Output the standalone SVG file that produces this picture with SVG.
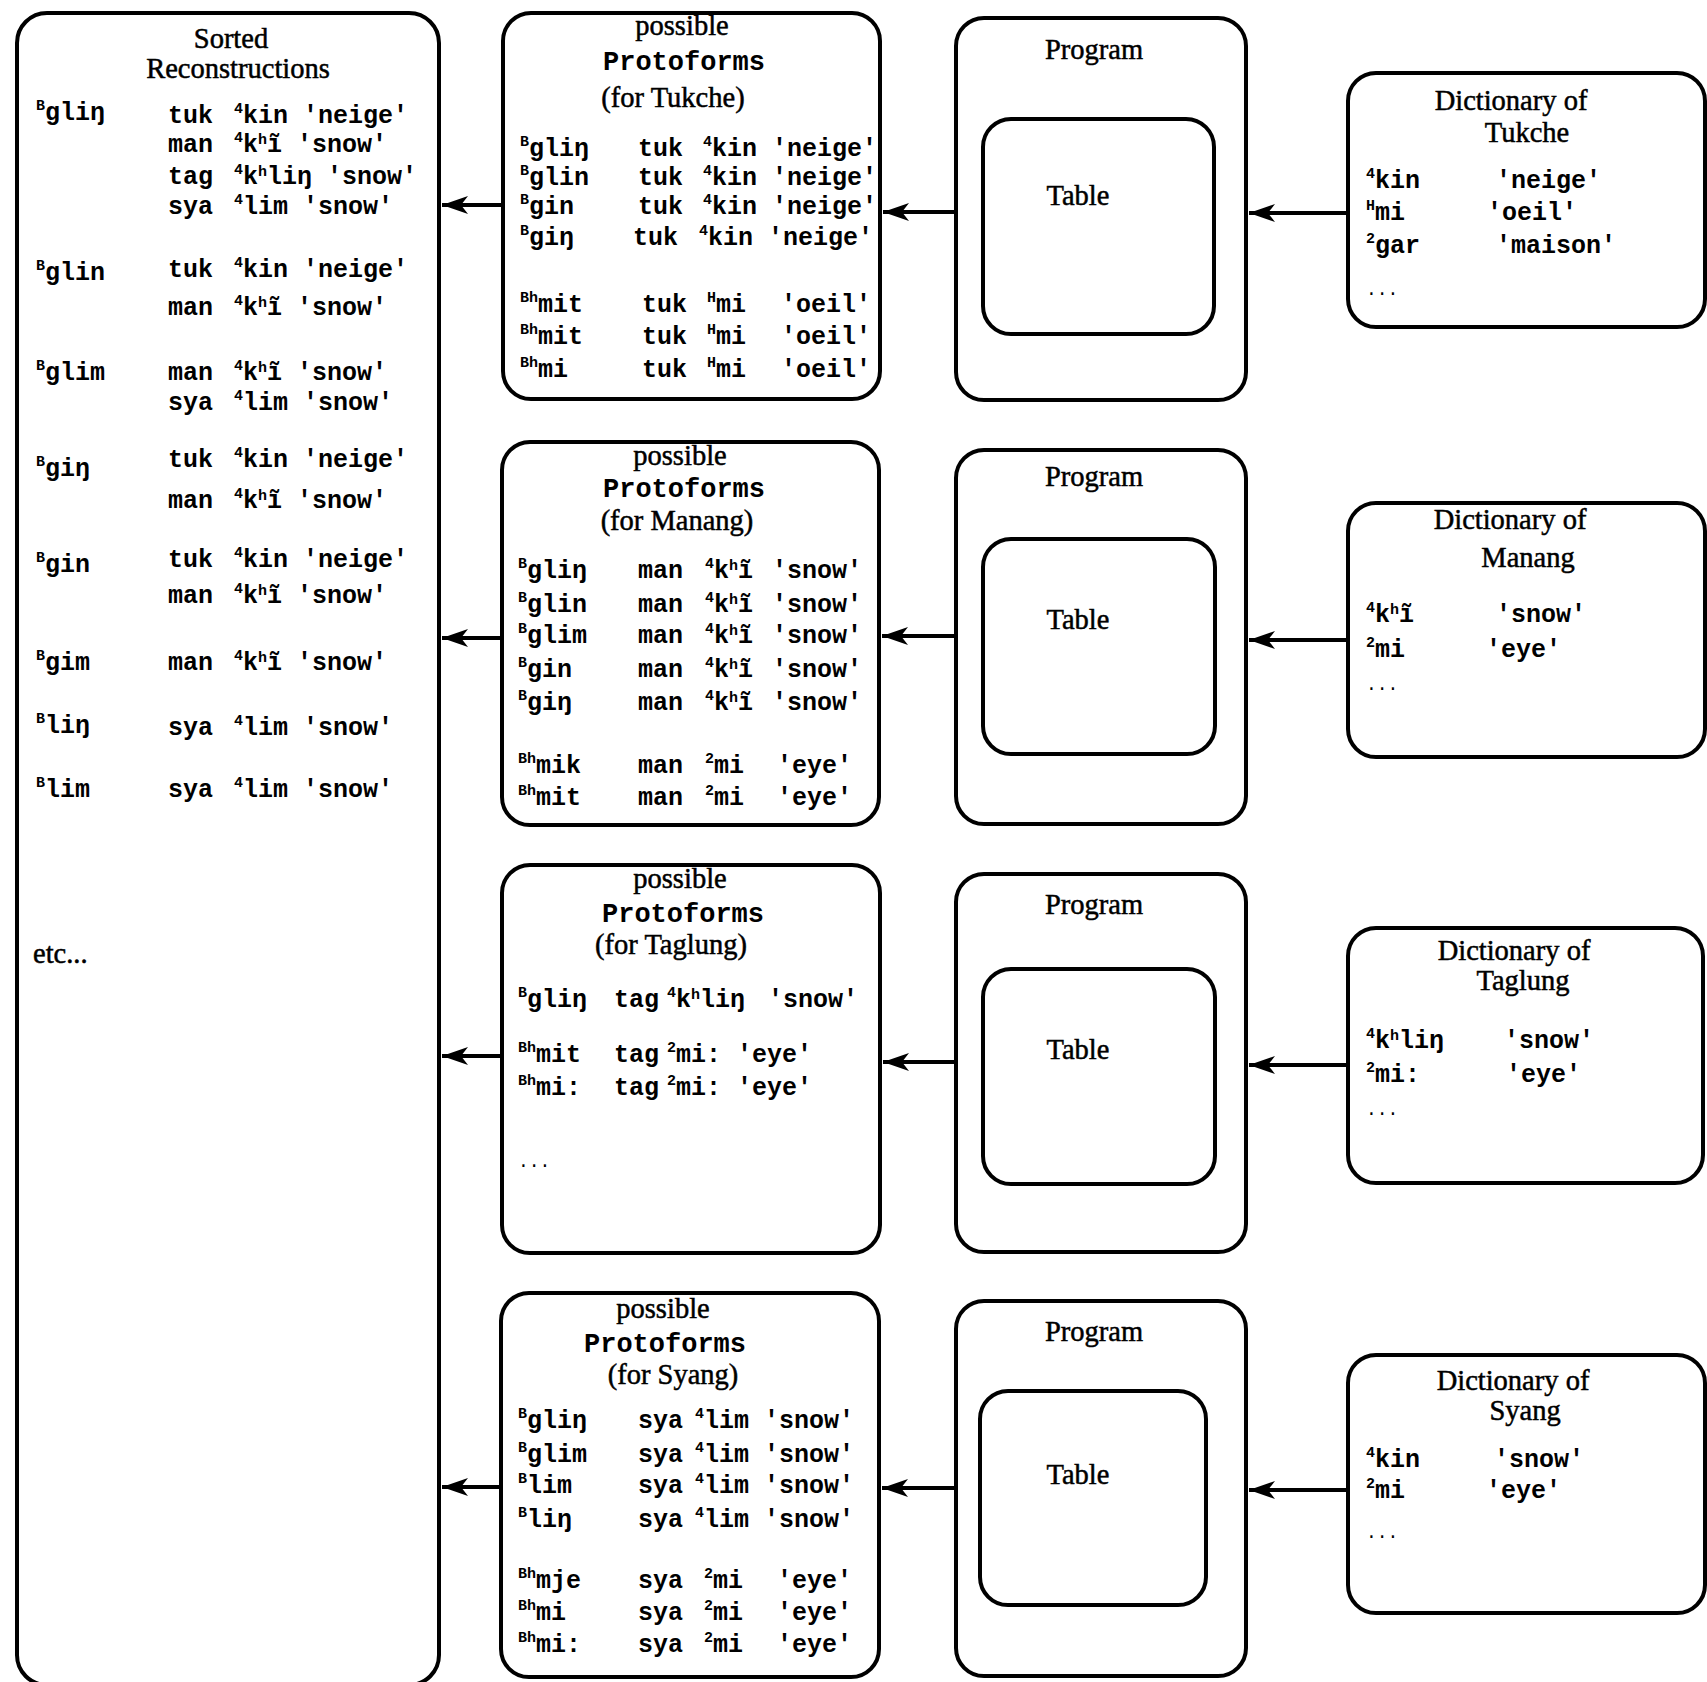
<svg xmlns="http://www.w3.org/2000/svg" width="1707" height="1682" viewBox="0 0 1707 1682">
<style>
  .box { fill: none; stroke: #000; stroke-width: 4; }
  .s { font-family: "Liberation Serif", "DejaVu Serif", serif; font-size: 28.5px; fill: #000; stroke: #000; stroke-width: 0.5; }
  .m { font-family: "Liberation Mono", "DejaVu Sans Mono", monospace; font-size: 25px; font-weight: bold; fill: #000; }
  .hd { font-size: 27px; }
  .sup { font-size: 15px; }
  .dots { font-family: "Liberation Mono", monospace; font-size: 18px; fill: #000; }
  .conn path { fill: none; stroke: #000; stroke-width: 4; }
</style>
<defs>
  <marker id="ah" markerUnits="userSpaceOnUse" markerWidth="28" markerHeight="24" refX="26" refY="12" orient="auto">
    <path d="M0,3 L26,12 L0,21 L7,12 Z" fill="#000"/>
  </marker>
</defs>
<rect width="1707" height="1682" fill="#fff"/>

<!-- sorted reconstructions -->
<g id="sorted">
  <rect class="box" x="17" y="13" width="422" height="1672" rx="30"/>
  <text class="s" x="231" y="48" text-anchor="middle">Sorted</text>
  <text class="s" x="238" y="78" text-anchor="middle">Reconstructions</text>
  <text class="m" x="36" y="120"><tspan class="sup" dy="-10">B</tspan><tspan dy="10">gliŋ</tspan></text>
  <text class="m" x="36" y="280"><tspan class="sup" dy="-10">B</tspan><tspan dy="10">glin</tspan></text>
  <text class="m" x="36" y="380"><tspan class="sup" dy="-10">B</tspan><tspan dy="10">glim</tspan></text>
  <text class="m" x="36" y="476"><tspan class="sup" dy="-10">B</tspan><tspan dy="10">giŋ</tspan></text>
  <text class="m" x="36" y="572"><tspan class="sup" dy="-10">B</tspan><tspan dy="10">gin</tspan></text>
  <text class="m" x="36" y="670"><tspan class="sup" dy="-10">B</tspan><tspan dy="10">gim</tspan></text>
  <text class="m" x="36" y="733"><tspan class="sup" dy="-10">B</tspan><tspan dy="10">liŋ</tspan></text>
  <text class="m" x="36" y="797"><tspan class="sup" dy="-10">B</tspan><tspan dy="10">lim</tspan></text>

  <text class="m" x="168" y="123">tuk<tspan x="234" class="sup" dy="-10">4</tspan><tspan dy="10">kin 'neige'</tspan></text>
  <text class="m" x="168" y="152">man<tspan x="234" class="sup" dy="-10">4</tspan><tspan dy="10">k</tspan><tspan class="sup" dy="-8">h</tspan><tspan dy="8">ĩ 'snow'</tspan></text>
  <text class="m" x="168" y="184">tag<tspan x="234" class="sup" dy="-10">4</tspan><tspan dy="10">k</tspan><tspan class="sup" dy="-8">h</tspan><tspan dy="8">liŋ 'snow'</tspan></text>
  <text class="m" x="168" y="214">sya<tspan x="234" class="sup" dy="-10">4</tspan><tspan dy="10">lim 'snow'</tspan></text>

  <text class="m" x="168" y="277">tuk<tspan x="234" class="sup" dy="-10">4</tspan><tspan dy="10">kin 'neige'</tspan></text>
  <text class="m" x="168" y="315">man<tspan x="234" class="sup" dy="-10">4</tspan><tspan dy="10">k</tspan><tspan class="sup" dy="-8">h</tspan><tspan dy="8">ĩ 'snow'</tspan></text>

  <text class="m" x="168" y="380">man<tspan x="234" class="sup" dy="-10">4</tspan><tspan dy="10">k</tspan><tspan class="sup" dy="-8">h</tspan><tspan dy="8">ĩ 'snow'</tspan></text>
  <text class="m" x="168" y="410">sya<tspan x="234" class="sup" dy="-10">4</tspan><tspan dy="10">lim 'snow'</tspan></text>

  <text class="m" x="168" y="467">tuk<tspan x="234" class="sup" dy="-10">4</tspan><tspan dy="10">kin 'neige'</tspan></text>
  <text class="m" x="168" y="508">man<tspan x="234" class="sup" dy="-10">4</tspan><tspan dy="10">k</tspan><tspan class="sup" dy="-8">h</tspan><tspan dy="8">ĩ 'snow'</tspan></text>

  <text class="m" x="168" y="567">tuk<tspan x="234" class="sup" dy="-10">4</tspan><tspan dy="10">kin 'neige'</tspan></text>
  <text class="m" x="168" y="603">man<tspan x="234" class="sup" dy="-10">4</tspan><tspan dy="10">k</tspan><tspan class="sup" dy="-8">h</tspan><tspan dy="8">ĩ 'snow'</tspan></text>

  <text class="m" x="168" y="670">man<tspan x="234" class="sup" dy="-10">4</tspan><tspan dy="10">k</tspan><tspan class="sup" dy="-8">h</tspan><tspan dy="8">ĩ 'snow'</tspan></text>
  <text class="m" x="168" y="735">sya<tspan x="234" class="sup" dy="-10">4</tspan><tspan dy="10">lim 'snow'</tspan></text>
  <text class="m" x="168" y="797">sya<tspan x="234" class="sup" dy="-10">4</tspan><tspan dy="10">lim 'snow'</tspan></text>

  <text class="s" x="33" y="963" font-size="27">etc...</text>
</g>

<!-- protoform candidates, Tukche -->
<g id="proto-tukche">
  <rect class="box" x="503" y="13" width="377" height="386" rx="28"/>
  <text class="s" x="682" y="35" text-anchor="middle">possible</text>
  <text class="m hd" x="684" y="70" text-anchor="middle">Protoforms</text>
  <text class="s" x="673" y="107" text-anchor="middle">(for Tukche)</text>
  <text class="m" y="156"><tspan x="520" class="sup" dy="-10">B</tspan><tspan dy="10">gliŋ</tspan><tspan x="638">tuk</tspan><tspan x="703" class="sup" dy="-10">4</tspan><tspan dy="10">kin</tspan><tspan x="772">'neige'</tspan></text>
  <text class="m" y="185"><tspan x="520" class="sup" dy="-10">B</tspan><tspan dy="10">glin</tspan><tspan x="638">tuk</tspan><tspan x="703" class="sup" dy="-10">4</tspan><tspan dy="10">kin</tspan><tspan x="772">'neige'</tspan></text>
  <text class="m" y="214"><tspan x="520" class="sup" dy="-10">B</tspan><tspan dy="10">gin</tspan><tspan x="638">tuk</tspan><tspan x="703" class="sup" dy="-10">4</tspan><tspan dy="10">kin</tspan><tspan x="772">'neige'</tspan></text>
  <text class="m" y="245"><tspan x="520" class="sup" dy="-10">B</tspan><tspan dy="10">giŋ</tspan><tspan x="633">tuk</tspan><tspan x="699" class="sup" dy="-10">4</tspan><tspan dy="10">kin</tspan><tspan x="768">'neige'</tspan></text>
  <text class="m" y="312"><tspan x="520" class="sup" dy="-10">Bh</tspan><tspan dy="10">mit</tspan><tspan x="642">tuk</tspan><tspan x="707" class="sup" dy="-10">H</tspan><tspan dy="10">mi</tspan><tspan x="781">'oeil'</tspan></text>
  <text class="m" y="344"><tspan x="520" class="sup" dy="-10">Bh</tspan><tspan dy="10">mit</tspan><tspan x="642">tuk</tspan><tspan x="707" class="sup" dy="-10">H</tspan><tspan dy="10">mi</tspan><tspan x="781">'oeil'</tspan></text>
  <text class="m" y="377"><tspan x="520" class="sup" dy="-10">Bh</tspan><tspan dy="10">mi</tspan><tspan x="642">tuk</tspan><tspan x="707" class="sup" dy="-10">H</tspan><tspan dy="10">mi</tspan><tspan x="781">'oeil'</tspan></text>
</g>

<!-- protoform candidates, Manang -->
<g id="proto-manang">
  <rect class="box" x="502" y="442" width="377" height="383" rx="28"/>
  <text class="s" x="680" y="465" text-anchor="middle">possible</text>
  <text class="m hd" x="684" y="497" text-anchor="middle">Protoforms</text>
  <text class="s" x="677" y="530" text-anchor="middle">(for Manang)</text>
  <text class="m" y="578"><tspan x="518" class="sup" dy="-10">B</tspan><tspan dy="10">gliŋ</tspan><tspan x="638">man</tspan><tspan x="705" class="sup" dy="-10">4</tspan><tspan dy="10">k</tspan><tspan class="sup" dy="-8">h</tspan><tspan dy="8">ĩ</tspan><tspan x="772">'snow'</tspan></text>
  <text class="m" y="612"><tspan x="518" class="sup" dy="-10">B</tspan><tspan dy="10">glin</tspan><tspan x="638">man</tspan><tspan x="705" class="sup" dy="-10">4</tspan><tspan dy="10">k</tspan><tspan class="sup" dy="-8">h</tspan><tspan dy="8">ĩ</tspan><tspan x="772">'snow'</tspan></text>
  <text class="m" y="643"><tspan x="518" class="sup" dy="-10">B</tspan><tspan dy="10">glim</tspan><tspan x="638">man</tspan><tspan x="705" class="sup" dy="-10">4</tspan><tspan dy="10">k</tspan><tspan class="sup" dy="-8">h</tspan><tspan dy="8">ĩ</tspan><tspan x="772">'snow'</tspan></text>
  <text class="m" y="677"><tspan x="518" class="sup" dy="-10">B</tspan><tspan dy="10">gin</tspan><tspan x="638">man</tspan><tspan x="705" class="sup" dy="-10">4</tspan><tspan dy="10">k</tspan><tspan class="sup" dy="-8">h</tspan><tspan dy="8">ĩ</tspan><tspan x="772">'snow'</tspan></text>
  <text class="m" y="710"><tspan x="518" class="sup" dy="-10">B</tspan><tspan dy="10">giŋ</tspan><tspan x="638">man</tspan><tspan x="705" class="sup" dy="-10">4</tspan><tspan dy="10">k</tspan><tspan class="sup" dy="-8">h</tspan><tspan dy="8">ĩ</tspan><tspan x="772">'snow'</tspan></text>
  <text class="m" y="773"><tspan x="518" class="sup" dy="-10">Bh</tspan><tspan dy="10">mik</tspan><tspan x="638">man</tspan><tspan x="705" class="sup" dy="-10">2</tspan><tspan dy="10">mi</tspan><tspan x="777">'eye'</tspan></text>
  <text class="m" y="805"><tspan x="518" class="sup" dy="-10">Bh</tspan><tspan dy="10">mit</tspan><tspan x="638">man</tspan><tspan x="705" class="sup" dy="-10">2</tspan><tspan dy="10">mi</tspan><tspan x="777">'eye'</tspan></text>
</g>

<!-- protoform candidates, Taglung -->
<g id="proto-taglung">
  <rect class="box" x="502" y="865" width="378" height="388" rx="28"/>
  <text class="s" x="680" y="888" text-anchor="middle">possible</text>
  <text class="m hd" x="683" y="922" text-anchor="middle">Protoforms</text>
  <text class="s" x="671" y="954" text-anchor="middle">(for Taglung)</text>
  <text class="m" y="1007"><tspan x="518" class="sup" dy="-10">B</tspan><tspan dy="10">gliŋ</tspan><tspan x="614">tag</tspan><tspan x="667" class="sup" dy="-10">4</tspan><tspan dy="10">k</tspan><tspan class="sup" dy="-8">h</tspan><tspan dy="8">liŋ</tspan><tspan x="768">'snow'</tspan></text>
  <text class="m" y="1062"><tspan x="518" class="sup" dy="-10">Bh</tspan><tspan dy="10">mit</tspan><tspan x="614">tag</tspan><tspan x="667" class="sup" dy="-10">2</tspan><tspan dy="10">mi:</tspan><tspan x="737">'eye'</tspan></text>
  <text class="m" y="1095"><tspan x="518" class="sup" dy="-10">Bh</tspan><tspan dy="10">mi:</tspan><tspan x="614">tag</tspan><tspan x="667" class="sup" dy="-10">2</tspan><tspan dy="10">mi:</tspan><tspan x="737">'eye'</tspan></text>
  <text class="dots" x="518" y="1167">...</text>
</g>

<!-- protoform candidates, Syang -->
<g id="proto-syang">
  <rect class="box" x="501" y="1293" width="378" height="384" rx="28"/>
  <text class="s" x="663" y="1318" text-anchor="middle">possible</text>
  <text class="m hd" x="665" y="1352" text-anchor="middle">Protoforms</text>
  <text class="s" x="673" y="1384" text-anchor="middle">(for Syang)</text>
  <text class="m" y="1428"><tspan x="518" class="sup" dy="-10">B</tspan><tspan dy="10">gliŋ</tspan><tspan x="638">sya</tspan><tspan x="695" class="sup" dy="-10">4</tspan><tspan dy="10">lim</tspan><tspan x="764">'snow'</tspan></text>
  <text class="m" y="1462"><tspan x="518" class="sup" dy="-10">B</tspan><tspan dy="10">glim</tspan><tspan x="638">sya</tspan><tspan x="695" class="sup" dy="-10">4</tspan><tspan dy="10">lim</tspan><tspan x="764">'snow'</tspan></text>
  <text class="m" y="1493"><tspan x="518" class="sup" dy="-10">B</tspan><tspan dy="10">lim</tspan><tspan x="638">sya</tspan><tspan x="695" class="sup" dy="-10">4</tspan><tspan dy="10">lim</tspan><tspan x="764">'snow'</tspan></text>
  <text class="m" y="1527"><tspan x="518" class="sup" dy="-10">B</tspan><tspan dy="10">liŋ</tspan><tspan x="638">sya</tspan><tspan x="695" class="sup" dy="-10">4</tspan><tspan dy="10">lim</tspan><tspan x="764">'snow'</tspan></text>
  <text class="m" y="1588"><tspan x="518" class="sup" dy="-10">Bh</tspan><tspan dy="10">mje</tspan><tspan x="638">sya</tspan><tspan x="704" class="sup" dy="-10">2</tspan><tspan dy="10">mi</tspan><tspan x="777">'eye'</tspan></text>
  <text class="m" y="1620"><tspan x="518" class="sup" dy="-10">Bh</tspan><tspan dy="10">mi</tspan><tspan x="638">sya</tspan><tspan x="704" class="sup" dy="-10">2</tspan><tspan dy="10">mi</tspan><tspan x="777">'eye'</tspan></text>
  <text class="m" y="1652"><tspan x="518" class="sup" dy="-10">Bh</tspan><tspan dy="10">mi:</tspan><tspan x="638">sya</tspan><tspan x="704" class="sup" dy="-10">2</tspan><tspan dy="10">mi</tspan><tspan x="777">'eye'</tspan></text>
</g>

<!-- program blocks with their tables -->
<g id="program-1">
  <rect class="box" x="956" y="18" width="290" height="382" rx="28"/>
  <text class="s" x="1094" y="59" text-anchor="middle">Program</text>
  <rect class="box" x="983" y="119" width="231" height="215" rx="28"/>
  <text class="s" x="1078" y="205" text-anchor="middle">Table</text>
</g>
<g id="program-2">
  <rect class="box" x="956" y="450" width="290" height="374" rx="28"/>
  <text class="s" x="1094" y="486" text-anchor="middle">Program</text>
  <rect class="box" x="983" y="539" width="232" height="215" rx="28"/>
  <text class="s" x="1078" y="629" text-anchor="middle">Table</text>
</g>
<g id="program-3">
  <rect class="box" x="956" y="874" width="290" height="378" rx="28"/>
  <text class="s" x="1094" y="914" text-anchor="middle">Program</text>
  <rect class="box" x="983" y="969" width="232" height="215" rx="28"/>
  <text class="s" x="1078" y="1059" text-anchor="middle">Table</text>
</g>
<g id="program-4">
  <rect class="box" x="956" y="1301" width="290" height="375" rx="28"/>
  <text class="s" x="1094" y="1341" text-anchor="middle">Program</text>
  <rect class="box" x="980" y="1391" width="226" height="214" rx="28"/>
  <text class="s" x="1078" y="1484" text-anchor="middle">Table</text>
</g>

<!-- dictionaries -->
<g id="dict-tukche">
  <rect class="box" x="1348" y="73" width="357" height="254" rx="28"/>
  <text class="s" x="1511" y="110" text-anchor="middle">Dictionary of</text>
  <text class="s" x="1527" y="142" text-anchor="middle">Tukche</text>
  <text class="m" y="188"><tspan x="1366" class="sup" dy="-10">4</tspan><tspan dy="10">kin</tspan><tspan x="1496">'neige'</tspan></text>
  <text class="m" y="220"><tspan x="1366" class="sup" dy="-10">H</tspan><tspan dy="10">mi</tspan><tspan x="1487">'oeil'</tspan></text>
  <text class="m" y="253"><tspan x="1366" class="sup" dy="-10">2</tspan><tspan dy="10">gar</tspan><tspan x="1496">'maison'</tspan></text>
  <text class="dots" x="1366" y="295">...</text>
</g>
<g id="dict-manang">
  <rect class="box" x="1348" y="503" width="357" height="254" rx="28"/>
  <text class="s" x="1510" y="529" text-anchor="middle">Dictionary of</text>
  <text class="s" x="1528" y="567" text-anchor="middle">Manang</text>
  <text class="m" y="622"><tspan x="1366" class="sup" dy="-10">4</tspan><tspan dy="10">k</tspan><tspan class="sup" dy="-8">h</tspan><tspan dy="8">ĩ</tspan><tspan x="1496">'snow'</tspan></text>
  <text class="m" y="657"><tspan x="1366" class="sup" dy="-10">2</tspan><tspan dy="10">mi</tspan><tspan x="1486">'eye'</tspan></text>
  <text class="dots" x="1366" y="690">...</text>
</g>
<g id="dict-taglung">
  <rect class="box" x="1348" y="928" width="355" height="255" rx="28"/>
  <text class="s" x="1514" y="960" text-anchor="middle">Dictionary of</text>
  <text class="s" x="1523" y="990" text-anchor="middle">Taglung</text>
  <text class="m" y="1048"><tspan x="1366" class="sup" dy="-10">4</tspan><tspan dy="10">k</tspan><tspan class="sup" dy="-8">h</tspan><tspan dy="8">liŋ</tspan><tspan x="1504">'snow'</tspan></text>
  <text class="m" y="1082"><tspan x="1366" class="sup" dy="-10">2</tspan><tspan dy="10">mi:</tspan><tspan x="1506">'eye'</tspan></text>
  <text class="dots" x="1366" y="1115">...</text>
</g>
<g id="dict-syang">
  <rect class="box" x="1348" y="1355" width="357" height="258" rx="28"/>
  <text class="s" x="1513" y="1390" text-anchor="middle">Dictionary of</text>
  <text class="s" x="1525" y="1420" text-anchor="middle">Syang</text>
  <text class="m" y="1467"><tspan x="1366" class="sup" dy="-10">4</tspan><tspan dy="10">kin</tspan><tspan x="1494">'snow'</tspan></text>
  <text class="m" y="1498"><tspan x="1366" class="sup" dy="-10">2</tspan><tspan dy="10">mi</tspan><tspan x="1486">'eye'</tspan></text>
  <text class="dots" x="1366" y="1538">...</text>
</g>

<!-- data flow: dictionary -> program -> protoforms -> sorted list -->
<g id="connectors" class="conn">
  <path d="M1348,213 H1249" marker-end="url(#ah)"/>
  <path d="M1348,640 H1249" marker-end="url(#ah)"/>
  <path d="M1348,1065 H1249" marker-end="url(#ah)"/>
  <path d="M1348,1490 H1249" marker-end="url(#ah)"/>
  <path d="M956,212 H883" marker-end="url(#ah)"/>
  <path d="M956,636 H882" marker-end="url(#ah)"/>
  <path d="M956,1062 H883" marker-end="url(#ah)"/>
  <path d="M956,1488 H882" marker-end="url(#ah)"/>
  <path d="M503,205 H442" marker-end="url(#ah)"/>
  <path d="M502,638 H442" marker-end="url(#ah)"/>
  <path d="M502,1056 H442" marker-end="url(#ah)"/>
  <path d="M501,1487 H442" marker-end="url(#ah)"/>
</g>
</svg>
